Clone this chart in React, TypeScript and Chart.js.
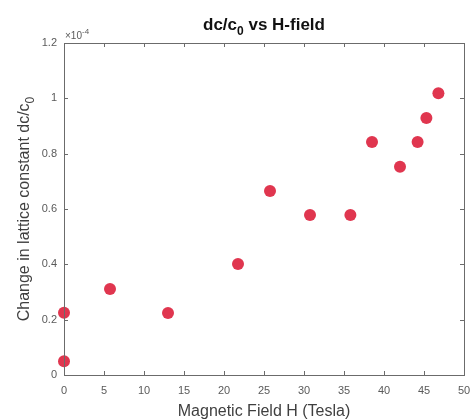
import React, { useEffect, useRef } from "react";
import { Chart, registerables } from "chart.js";

Chart.register(...registerables);

// Data (y values in units of 1e-4)
const fieldTesla = [0, 0, 5.75, 13, 21.75, 25.75, 30.75, 35.8, 38.5, 42, 44.2, 45.3, 46.8];
const dcOverC0 = [0.05, 0.225, 0.311, 0.224, 0.401, 0.665, 0.578, 0.578, 0.842, 0.753, 0.842, 0.929, 1.018];

const xTicks = [0, 5, 10, 15, 20, 25, 30, 35, 40, 45, 50];
const yTicks = [0, 0.2, 0.4, 0.6, 0.8, 1, 1.2];

const titleMain = "dc/c";
const titleSub = "0";
const titleRest = " vs H-field";
const xAxisTitle = "Magnetic Field H (Tesla)";
const yAxisTitleMain = "Change in lattice constant dc/c";
const yAxisTitleSub = "0";
const exponentBase = "\u00d710";
const exponentPower = "-4";

const FONT = "'Liberation Sans', Arial, Helvetica, sans-serif";
const AXIS_COLOR = "#6b6b6b";
const TICK_TEXT = "#5a5a5a";
const LABEL_TEXT = "#3f3f3f";
const POINT_COLOR = "#e0364f";

const decorPlugin = {
  id: "decor",
  afterDraw(chart: any) {
    const ctx = chart.ctx as CanvasRenderingContext2D;
    const { left, right, top, bottom } = chart.chartArea;
    const xs = chart.scales.x;
    const ys = chart.scales.y;
    ctx.save();
    // box
    ctx.strokeStyle = AXIS_COLOR;
    ctx.lineWidth = 1;
    ctx.strokeRect(Math.round(left) + 0.5, Math.round(top) + 0.5, Math.round(right - left), Math.round(bottom - top));
    // inward ticks
    const tl = 4;
    ctx.beginPath();
    xTicks.forEach((v) => {
      const px = Math.round(xs.getPixelForValue(v)) + 0.5;
      ctx.moveTo(px, bottom);
      ctx.lineTo(px, bottom - tl);
      ctx.moveTo(px, top);
      ctx.lineTo(px, top + tl);
    });
    yTicks.forEach((v) => {
      const py = Math.round(ys.getPixelForValue(v)) + 0.5;
      ctx.moveTo(left, py);
      ctx.lineTo(left + tl, py);
      ctx.moveTo(right, py);
      ctx.lineTo(right - tl, py);
    });
    ctx.stroke();

    // title
    const cx = (left + right) / 2;
    const bold = `bold 17px ${FONT}`;
    const boldSub = `bold 12px ${FONT}`;
    ctx.fillStyle = "#111";
    ctx.textBaseline = "alphabetic";
    ctx.font = bold;
    const w1 = ctx.measureText(titleMain).width;
    const w3 = ctx.measureText(titleRest).width;
    ctx.font = boldSub;
    const w2 = ctx.measureText(titleSub).width;
    const total = w1 + w2 + w3;
    let x0 = cx - total / 2;
    const ty = 30;
    ctx.textAlign = "left";
    ctx.font = bold;
    ctx.fillText(titleMain, x0, ty);
    ctx.font = boldSub;
    ctx.fillText(titleSub, x0 + w1, ty + 5);
    ctx.font = bold;
    ctx.fillText(titleRest, x0 + w1 + w2, ty);

    // exponent
    ctx.fillStyle = TICK_TEXT;
    ctx.font = `10px ${FONT}`;
    const ex = left + 1;
    const ey = top - 4;
    ctx.fillText(exponentBase, ex, ey);
    const ew = ctx.measureText(exponentBase).width;
    ctx.font = `8px ${FONT}`;
    ctx.fillText(exponentPower, ex + ew, ey - 5);

    // x axis title
    ctx.fillStyle = LABEL_TEXT;
    ctx.font = `16px ${FONT}`;
    ctx.textAlign = "center";
    ctx.fillText(xAxisTitle, cx, 416);

    // y axis title
    ctx.save();
    const cy = (top + bottom) / 2;
    ctx.translate(29, cy);
    ctx.rotate(-Math.PI / 2);
    ctx.font = `16px ${FONT}`;
    const yw1 = ctx.measureText(yAxisTitleMain).width;
    ctx.font = `12px ${FONT}`;
    const yw2 = ctx.measureText(yAxisTitleSub).width;
    const ytot = yw1 + yw2;
    ctx.textAlign = "left";
    ctx.font = `16px ${FONT}`;
    ctx.fillText(yAxisTitleMain, -ytot / 2, 0);
    ctx.font = `12px ${FONT}`;
    ctx.fillText(yAxisTitleSub, -ytot / 2 + yw1, 5);
    ctx.restore();

    ctx.restore();
  },
};

export default function App() {
  const ref = useRef<HTMLCanvasElement | null>(null);
  useEffect(() => {
    document.body.style.margin = "0";
    if (!ref.current) return;
    const chart = new Chart(ref.current, {
      type: "scatter",
      data: {
        datasets: [
          {
            data: fieldTesla.map((x, i) => ({ x, y: dcOverC0[i] })),
            backgroundColor: POINT_COLOR,
            borderColor: POINT_COLOR,
            pointRadius: 6,
            pointHoverRadius: 6,
            borderWidth: 0,
          },
        ],
      },
      options: {
        animation: false,
        responsive: false,
        devicePixelRatio: 1,
        clip: false as any,
        layout: { padding: { top: 43, right: 8, left: 0, bottom: 0 } },
        plugins: {
          legend: { display: false },
          title: { display: false },
          tooltip: { enabled: false },
        },
        scales: {
          x: {
            type: "linear",
            min: 0,
            max: 50,
            afterFit: (s: any) => {
              s.height = 44;
              s.paddingLeft = 0;
              s.paddingRight = 0;
            },
            afterBuildTicks: (s: any) => {
              s.ticks = xTicks.map((v) => ({ value: v }));
            },
            grid: { display: false, drawTicks: false },
            border: { display: false },
            ticks: {
              padding: 9,
              color: TICK_TEXT,
              font: { family: FONT, size: 11 },
              maxRotation: 0,
              autoSkip: false,
              callback: (v: any) => String(v),
            },
          },
          y: {
            type: "linear",
            min: 0,
            max: 1.2,
            afterFit: (s: any) => {
              s.width = 64;
            },
            afterBuildTicks: (s: any) => {
              s.ticks = yTicks.map((v) => ({ value: v }));
            },
            grid: { display: false, drawTicks: false },
            border: { display: false },
            ticks: {
              padding: 7,
              color: TICK_TEXT,
              font: { family: FONT, size: 11 },
              autoSkip: false,
              callback: (v: any) => String(Math.round(Number(v) * 10) / 10),
            },
          },
        },
      },
      plugins: [decorPlugin],
    });
    return () => chart.destroy();
  }, []);
  return (
    <div style={{ position: "absolute", left: 0, top: 0, width: 472, height: 419, background: "#fff" }}>
      <canvas ref={ref} width={472} height={419} style={{ width: 472, height: 419, display: "block" }} />
    </div>
  );
}
